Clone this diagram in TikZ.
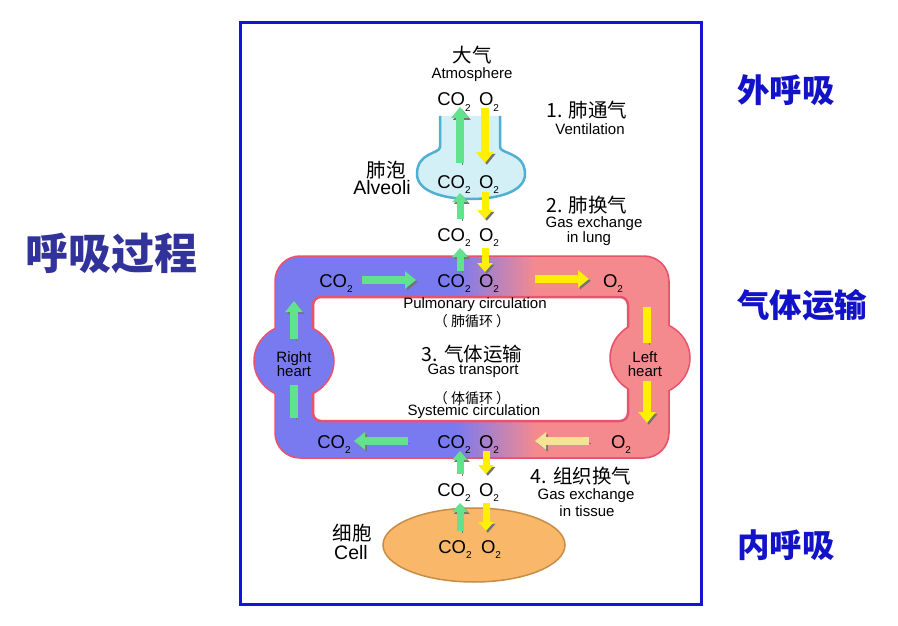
\documentclass[tikz,border=0pt]{standalone}
\usepackage{fontspec}
\setmainfont{Liberation Sans}
\newfontfamily\cjk{Noto Sans CJK SC}
\usetikzlibrary{arrows.meta}
\definecolor{framblue}{RGB}{20,20,215}
\definecolor{titleblue}{RGB}{50,50,155}
\definecolor{labelblue}{RGB}{18,18,200}
\definecolor{bluefill}{RGB}{122,122,240}
\definecolor{pinkfill}{RGB}{245,138,142}
\definecolor{loopline}{RGB}{232,82,108}
\definecolor{arrgreen}{RGB}{98,226,140}
\definecolor{arryellow}{RGB}{255,240,0}
\definecolor{arrpale}{RGB}{246,228,150}
\definecolor{shadowgray}{RGB}{70,70,70}
\definecolor{alvfill}{RGB}{212,240,247}
\definecolor{alvline}{RGB}{80,175,210}
\definecolor{cellfill}{RGB}{249,183,105}
\definecolor{cellline}{RGB}{200,140,70}
\newcommand\gsub[1]{\raisebox{-0.3em}{\fontsize{10}{10}\selectfont #1}}
\newcommand\COt{CO\gsub{2}}
\newcommand\Ot{O\gsub{2}}
\begin{document}
\begin{tikzpicture}[x=1pt,y=-1pt,
  gas/.style={font=\fontsize{18.5}{18.5}\selectfont, inner sep=0pt, anchor=base},
  en/.style={font=\fontsize{15}{15}\selectfont, inner sep=0pt},
  enb/.style={font=\fontsize{15}{15}\selectfont, inner sep=0pt, anchor=base},
  enbig/.style={font=\fontsize{19.5}{19.5}\selectfont, inner sep=0pt},
  zh/.style={font=\cjk\fontsize{19.5}{19.5}\selectfont, inner sep=0pt},
  zhpar/.style={font=\cjk\fontsize{14}{14}\selectfont, inner sep=0pt},
  bigzh/.style={font=\cjk\bfseries\fontsize{32.5}{32.5}\selectfont, text=labelblue, inner sep=0pt},
  shadowed/.style={preaction={draw=shadowgray!75, transform canvas={xshift=1.8pt,yshift=-1.8pt}}},
  bigarr/.style={line width=8pt, -{Triangle[width=17pt,length=11pt]}, shadowed},
  smallarr/.style={line width=7pt, -{Triangle[width=15pt,length=9pt]}, shadowed},
  bar/.style={line width=8pt, shadowed},
  garr/.style={bigarr, draw=arrgreen},
  yarr/.style={bigarr, draw=arryellow},
  parr/.style={bigarr, draw=arrpale},
  gsarr/.style={smallarr, draw=arrgreen},
  ysarr/.style={smallarr, draw=arryellow},
  gbar/.style={bar, draw=arrgreen},
  ybar/.style={bar, draw=arryellow}
]
\useasboundingbox (0,0) rectangle (898,626);
\fill[white] (0,0) rectangle (898,626);

% frame
\draw[framblue, line width=3pt] (240,23) rectangle (701,604);

% side titles
\node[font=\cjk\bfseries\fontsize{43}{43}\selectfont, text=titleblue, inner sep=0pt] (title) at (112,253) {呼吸过程};
\node[bigzh] (outer) at (786,90) {外呼吸};
\node[bigzh] (transp) at (802,305) {气体运输};
\node[bigzh] (inner) at (786,545) {内呼吸};

% alveoli
\fill[alvfill] (440,116) -- (440,147) .. controls (440,154) and (417,152) .. (417,174)
  .. controls (417,192) and (445,199) .. (471,199) .. controls (497,199) and (525,192) .. (525,174)
  .. controls (525,152) and (500,154) .. (500,147) -- (500,116) -- cycle;
\draw[alvline, line width=2.5pt] (440,116) -- (440,147) .. controls (440,154) and (417,152) .. (417,174)
  .. controls (417,192) and (445,199) .. (471,199) .. controls (497,199) and (525,192) .. (525,174)
  .. controls (525,152) and (500,154) .. (500,147) -- (500,116);

% blood loop
\draw[loopline, line width=3.5pt, rounded corners=24pt] (276,257) rectangle (668,457);
\draw[loopline, line width=3.5pt] (294,361) ellipse [x radius=39pt, y radius=36pt];
\draw[loopline, line width=3.5pt] (650,358) ellipse [x radius=39pt, y radius=36pt];
\begin{scope}
  \clip[rounded corners=24pt] (276,257) rectangle (668,457);
  \fill[bluefill] (250,250) rectangle (457,465);
  \shade[left color=bluefill, right color=pinkfill] (456,250) rectangle (536,465);
  \fill[pinkfill] (535,250) rectangle (700,465);
\end{scope}
\fill[bluefill] (294,361) ellipse [x radius=39pt, y radius=36pt];
\fill[pinkfill] (650,358) ellipse [x radius=39pt, y radius=36pt];
\filldraw[fill=white, draw=loopline, line width=2.5pt, rounded corners=8pt] (313,297) rectangle (628,421);
\begin{scope}
  \clip (313,297) rectangle (628,421);
  \draw[loopline, line width=3.5pt] (294,361) ellipse [x radius=39pt, y radius=36pt];
  \draw[loopline, line width=3.5pt] (650,358) ellipse [x radius=39pt, y radius=36pt];
\end{scope}
\fill[bluefill] (294,361) ellipse [x radius=39pt, y radius=36pt];
\fill[pinkfill] (650,358) ellipse [x radius=39pt, y radius=36pt];

% cell
\filldraw[fill=cellfill, draw=cellline, line width=1.5pt] (474,545) ellipse [x radius=91pt, y radius=37pt];

% texts - top
\node[zh] (atmzh) at (472,55) {大气};
\node[en] (atm) at (472,75) {Atmosphere};
\node[gas] (co2a) at (454,106) {\COt};
\node[gas] (o2a) at (489,106) {\Ot};
\node[zh] (vzh) at (587,110) {1. 肺通气};
\node[en] (v) at (590,129) {Ventilation};
\node[zh] (alvzh) at (386,170) {肺泡};
\node[enbig] (alv) at (382,188) {Alveoli};
\node[gas] (co2b) at (454,188) {\COt};
\node[gas] (o2b) at (489,188) {\Ot};
\node[zh] (lzh) at (587,205) {2. 肺换气};
\node[en] (l1) at (594,224) {Gas exchange};
\node[en] (l2) at (589,239) {in lung};
\node[gas] (co2c) at (454,241) {\COt};
\node[gas] (o2c) at (489,241) {\Ot};

% loop texts
\node[gas] (co2d) at (336,287) {\COt};
\node[gas] (co2e) at (454,287) {\COt};
\node[gas] (o2e) at (489,287) {\Ot};
\node[gas] (o2f) at (613,287) {\Ot};
\node[en] (pulm) at (475,305) {Pulmonary circulation};
\node[zhpar] (pulmzh) at (472,321) {（ 肺循环 ）};
\node[zh] (gtzh) at (472,354) {3. 气体运输};
\node[en] (gt) at (473,371) {Gas transport};
\node[zhpar] (syszh) at (472,398) {（ 体循环 ）};
\node[en] (sys) at (474,412) {Systemic circulation};
\node[enb] (rh1) at (294,362) {Right};
\node[enb] (rh2) at (294,376) {heart};
\node[enb] (lh1) at (645,362) {Left};
\node[enb] (lh2) at (645,376) {heart};
\node[gas] (co2g) at (334,448) {\COt};
\node[gas] (co2h) at (454,448) {\COt};
\node[gas] (o2h) at (489,448) {\Ot};
\node[gas] (o2i) at (621,448) {\Ot};

% bottom texts
\node[zh] (tzh) at (581,476) {4. 组织换气};
\node[en] (t1) at (586,496) {Gas exchange};
\node[en] (t2) at (587,511) {in tissue};
\node[gas] (co2j) at (454,496) {\COt};
\node[gas] (o2j) at (489,496) {\Ot};
\node[zh] (cellzh) at (352,533) {细胞};
\node[enbig] (cell) at (351,553) {Cell};
\node[gas] (co2k) at (455,553) {\COt};
\node[gas] (o2k) at (491,553) {\Ot};

% arrow end points
\coordinate (g1s) at (460,163); \coordinate (g1e) at (460,107);
\coordinate (y1s) at (485,108); \coordinate (y1e) at (485,163);
\coordinate (g2s) at (460,219); \coordinate (g2e) at (460,193);
\coordinate (y2s) at (485,192); \coordinate (y2e) at (485,219);
\coordinate (g3s) at (460,271); \coordinate (g3e) at (460,248);
\coordinate (y3s) at (485,248); \coordinate (y3e) at (485,272);
\coordinate (g4s) at (460,474); \coordinate (g4e) at (460,451);
\coordinate (y4s) at (486,451); \coordinate (y4e) at (486,474);
\coordinate (g5s) at (460,531); \coordinate (g5e) at (460,503);
\coordinate (y5s) at (486,503); \coordinate (y5e) at (486,531);
\coordinate (hg1s) at (362,280); \coordinate (hg1e) at (416,280);
\coordinate (hy1s) at (535,279); \coordinate (hy1e) at (589,279);
\coordinate (hg2s) at (408,441); \coordinate (hg2e) at (354,441);
\coordinate (hp2s) at (589,441); \coordinate (hp2e) at (535,441);
\coordinate (rgs) at (294,339); \coordinate (rge) at (294,301);
\coordinate (rbs) at (294,385); \coordinate (rbe) at (294,418);
\coordinate (lbs) at (647,307); \coordinate (lbe) at (647,343);
\coordinate (lys) at (647,381); \coordinate (lye) at (647,423);

% arrows
\draw[garr] (g1s) -- (g1e);
\draw[yarr] (y1s) -- (y1e);
\draw[gsarr] (g2s) -- (g2e);
\draw[ysarr] (y2s) -- (y2e);
\draw[gsarr] (g3s) -- (g3e);
\draw[ysarr] (y3s) -- (y3e);
\draw[gsarr] (g4s) -- (g4e);
\draw[ysarr] (y4s) -- (y4e);
\draw[gsarr] (g5s) -- (g5e);
\draw[ysarr] (y5s) -- (y5e);
\draw[garr] (hg1s) -- (hg1e);
\draw[yarr] (hy1s) -- (hy1e);
\draw[garr] (hg2s) -- (hg2e);
\draw[parr] (hp2s) -- (hp2e);
\draw[garr] (rgs) -- (rge);
\draw[gbar] (rbs) -- (rbe);
\draw[ybar] (lbs) -- (lbe);
\draw[yarr] (lys) -- (lye);
\end{tikzpicture}
\end{document}
